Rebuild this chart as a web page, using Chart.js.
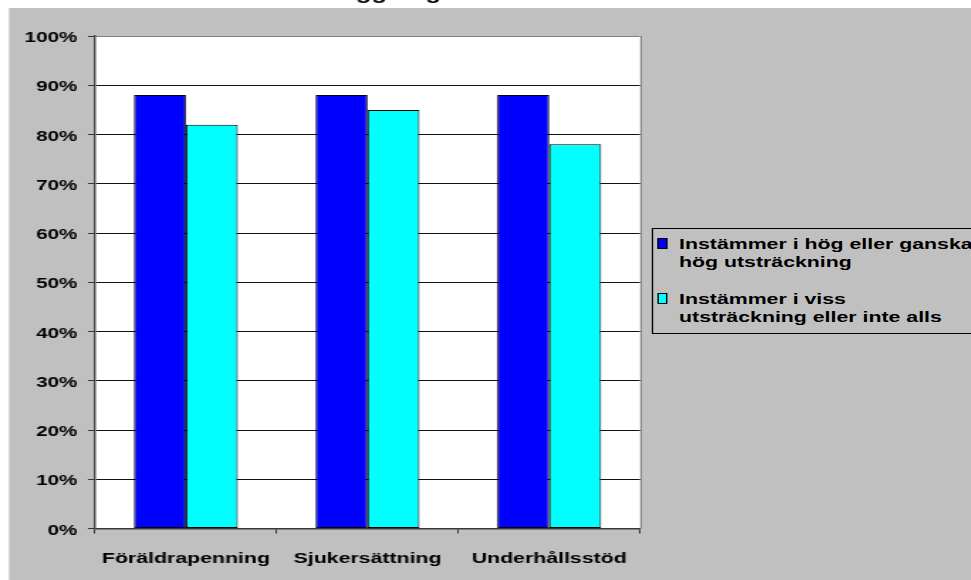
<!DOCTYPE html>
<html>
<head>
<meta charset="utf-8">
<script src="https://cdn.jsdelivr.net/npm/chart.js@4/dist/chart.umd.min.js"></script>
<style>
  html, body { margin: 0; padding: 0; background: #fff; overflow: hidden; width: 971px; height: 580px; }
  /* the whole chart is laid out narrow and widened horizontally */
  #stage { position: absolute; left: 0; top: 0; width: 684px; height: 580px; transform: scaleX(1.42); transform-origin: 0 0; }
  #c { position: absolute; left: 0; top: 0; }
  #legend { position: absolute; left: 458.5px; top: 228.3px; width: 400px; border: 1px solid #000; background: #c0c0c0;
            padding: 6.1px 0 7.6px 0; font: bold 15px "Liberation Sans", Arial, sans-serif; color: #000; }
  .item { position: relative; padding-left: 18.7px; line-height: 17.5px; white-space: nowrap; }
  .item + .item { margin-top: 20px; }
  .sw { position: absolute; left: 3px; top: 2.3px; width: 5.5px; height: 9.3px; border: 1px solid #000; }
</style>
</head>
<body>
<div id="stage">
  <canvas id="c" width="684" height="580"></canvas>
  <div id="legend"></div>
</div>
<script>
const categories = ['Föräldrapenning', 'Sjukersättning', 'Underhållsstöd'];
const seriesNames = [
  ['Instämmer i hög eller ganska', 'hög utsträckning'],
  ['Instämmer i viss', 'utsträckning eller inte alls']
];
const highAgreement = [88, 88, 88];
const lowAgreement = [82, 85, 78];
const seriesColors = ['#0000ff', '#00ffff'];
const titleText = 'Handläggning';
const FONT = '"Liberation Sans", Arial, sans-serif';

// grey chart background, white plot area, right frame line and the title
const framePlugin = {
  id: 'frame',
  beforeDraw(chart) {
    const { ctx, chartArea: a } = chart;
    ctx.save();
    ctx.fillStyle = '#c0c0c0';
    ctx.fillRect(6.34, 8, chart.width, chart.height);
    ctx.fillStyle = '#ffffff';
    ctx.fillRect(a.left, a.top, a.right - a.left, a.bottom - a.top);
    ctx.restore();
  },
  beforeDatasetsDraw(chart) {
    const { ctx, chartArea: a } = chart;
    ctx.save();
    ctx.strokeStyle = '#808080';
    ctx.lineWidth = 1;
    ctx.beginPath();
    ctx.moveTo(Math.round(a.right) + 0.5, a.top);
    ctx.lineTo(Math.round(a.right) + 0.5, a.bottom);
    ctx.stroke();
    ctx.restore();
  },
  afterDraw(chart) {
    // the title sits above the top edge; only its lowest strokes show
    const ctx = chart.ctx;
    ctx.save();
    ctx.fillStyle = '#000';
    ctx.font = 'bold 18px ' + FONT;
    ctx.textAlign = 'left';
    ctx.textBaseline = 'alphabetic';
    ctx.fillText(titleText, 190.5, -0.8);
    ctx.restore();
  }
};

const datasets = [highAgreement, lowAgreement].map((values, i) => ({
  label: seriesNames[i].join(' '),
  data: values,
  backgroundColor: seriesColors[i],
  borderColor: '#000',
  borderWidth: 1,
  borderSkipped: false,
  barPercentage: 1,
  categoryPercentage: 0.572
}));

new Chart(document.getElementById('c'), {
  type: 'bar',
  data: { labels: categories, datasets },
  options: {
    responsive: false,
    animation: false,
    events: [],
    layout: { padding: { left: 6.34, right: 233.3, top: 36, bottom: 0 } },
    plugins: { legend: { display: false }, tooltip: { enabled: false }, title: { display: false } },
    scales: {
      x: {
        type: 'category',
        offset: true,
        grid: { display: true, drawOnChartArea: false, drawTicks: true, tickLength: 5, color: '#333', offset: true },
        border: { display: true, color: '#3a3a3a', width: 1.5 },
        ticks: { font: { family: FONT, size: 15, weight: 'bold' }, color: '#000', padding: 16.5, maxRotation: 0, autoSkip: false },
        afterFit(s) { s.height = 51.5; }
      },
      y: {
        min: 0,
        max: 100,
        ticks: {
          stepSize: 10,
          callback: v => v + '%',
          font: { family: FONT, size: 14.5, weight: 'bold' },
          color: '#000',
          padding: 7.5,
          labelOffset: 2
        },
        grid: {
          color: ctx => (ctx.tick && ctx.tick.value === 100) ? '#808080' : '#111',
          lineWidth: 1,
          tickLength: 5,
          tickColor: '#333',
          drawTicks: true
        },
        border: { display: true, color: '#4a4a4a', width: 1.5 },
        afterFit(s) { s.width = 60.6; }
      }
    }
  },
  plugins: [framePlugin]
});

// legend with the series names on their own lines
const legend = document.getElementById('legend');
seriesNames.forEach((lines, i) => {
  const item = document.createElement('div');
  item.className = 'item';
  const sw = document.createElement('span');
  sw.className = 'sw';
  sw.style.background = seriesColors[i];
  item.appendChild(sw);
  lines.forEach(line => {
    const d = document.createElement('div');
    d.textContent = line;
    item.appendChild(d);
  });
  legend.appendChild(item);
});
</script>
</body>
</html>
